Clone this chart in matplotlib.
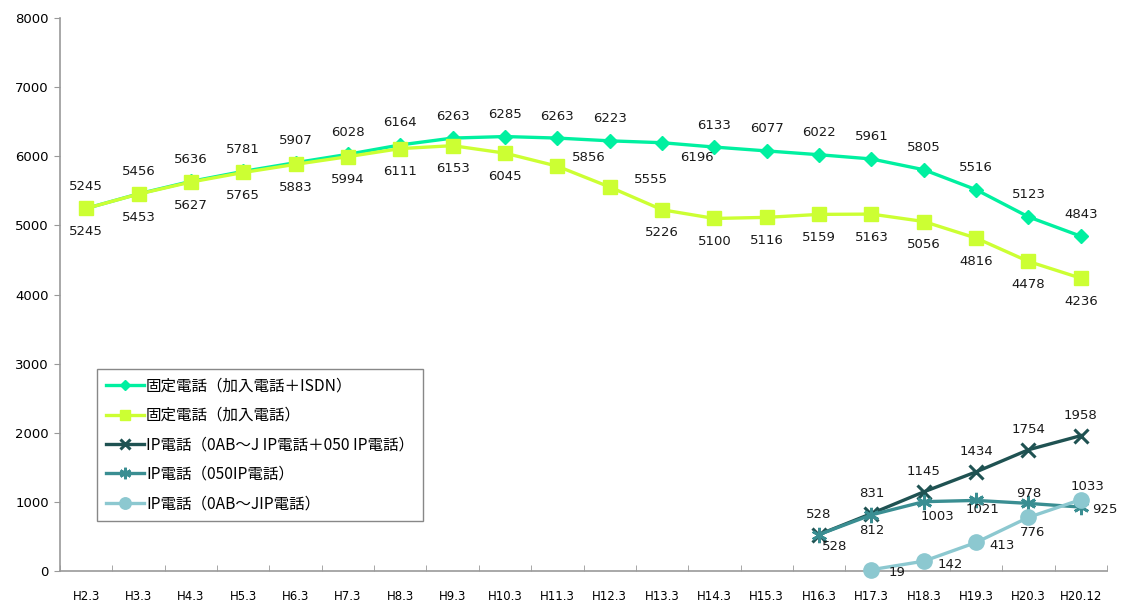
import numpy as np
import matplotlib
matplotlib.use("Agg")
import matplotlib.pyplot as plt

plt.rcParams['font.family'] = ['Noto Sans CJK JP', 'DejaVu Sans']

# categories (fiscal points)
categories = ['H2.3', 'H3.3', 'H4.3', 'H5.3', 'H6.3', 'H7.3', 'H8.3', 'H9.3', 'H10.3', 'H11.3',
              'H12.3', 'H13.3', 'H14.3', 'H15.3', 'H16.3', 'H17.3', 'H18.3', 'H19.3', 'H20.3', 'H20.12']

fixed_isdn = [5245, 5456, 5636, 5781, 5907, 6028, 6164, 6263, 6285, 6263,
              6223, 6196, 6133, 6077, 6022, 5961, 5805, 5516, 5123, 4843]
fixed_only = [5245, 5453, 5627, 5765, 5883, 5994, 6111, 6153, 6045, 5856,
              5555, 5226, 5100, 5116, 5159, 5163, 5056, 4816, 4478, 4236]
# IP series start part-way
ip_total_start = 14
ip_total = [528, 831, 1145, 1434, 1754, 1958]
ip_050_start = 14
ip_050 = [528, 812, 1003, 1021, 978, 925]
ip_0abj_start = 15
ip_0abj = [19, 142, 413, 776, 1033]

series_names = ['固定電話（加入電話＋ISDN）', '固定電話（加入電話）',
                'IP電話（0AB～J IP電話＋050 IP電話）', 'IP電話（050IP電話）', 'IP電話（0AB～JIP電話）']
y_ticks = [0, 1000, 2000, 3000, 4000, 5000, 6000, 7000, 8000]

# label offsets in pixels (dx, dy up); default per series, some overridden
PX = 0.72
label_style = {
    0: ((0, 22), {11: (35, -15)}),
    1: ((0, -23), {9: (31, 9), 10: (41, 8)}),
    2: ((0, 20), {}),
    3: ((0, -16), {0: (16, -12), 2: (14, -15), 3: (6, -9), 4: (0, 10), 5: (24, -2)}),
    4: ((26, -3), {3: (4, -15), 4: (7, 13)}),
}

fig = plt.figure(figsize=(11.29, 6.08), dpi=100)
ax = fig.add_axes([60 / 1129, 1 - 571 / 608, (1107 - 60) / 1129, (571 - 18) / 608])

x_all = np.arange(len(categories))
series = [
    (x_all, fixed_isdn, dict(color='#00F0A0', marker='D', markersize=7)),
    (x_all, fixed_only, dict(color='#CCFF33', marker='s', markersize=9.5)),
    (np.arange(ip_total_start, ip_total_start + len(ip_total)), ip_total,
     dict(color='#1F5252', marker='x', markersize=10, markeredgewidth=2.2)),
    (np.arange(ip_050_start, ip_050_start + len(ip_050)), ip_050,
     dict(color='#3A8E92', marker=(6, 2, 0), markersize=11, markeredgewidth=2)),
    (np.arange(ip_0abj_start, ip_0abj_start + len(ip_0abj)), ip_0abj,
     dict(color='#8CC8D0', marker='o', markersize=11)),
]

for i, (xs, ys, style) in enumerate(series):
    ax.plot(xs, ys, linewidth=2.4, label=series_names[i], clip_on=False, zorder=3 + i, **style)
    default, special = label_style[i]
    for j, (xv, yv) in enumerate(zip(xs, ys)):
        dx, dy = special.get(j, default)
        ax.annotate(str(yv), (xv, yv), xytext=(dx * PX, dy * PX), textcoords='offset points',
                    ha='center', va='center', fontsize=9.5, color='#1a1a1a',
                    family=['DejaVu Sans'], zorder=10)

ax.set_xlim(-0.5, len(categories) - 0.5)
ax.set_ylim(0, 8000)
ax.set_yticks(y_ticks)
ax.set_yticklabels([str(v) for v in y_ticks], fontsize=9.5, family=['DejaVu Sans'])
ax.set_xticks(x_all)
ax.set_xticklabels(categories, fontsize=8.5, family=['DejaVu Sans'])
ax.set_xticks(np.arange(-0.5, len(categories)), minor=True)
ax.tick_params(axis='x', which='major', length=0, pad=14)
ax.tick_params(axis='x', which='minor', length=4, direction='in', color='#999999')
ax.tick_params(axis='y', length=4, color='#999999', pad=4)

for side in ['top', 'right']:
    ax.spines[side].set_visible(False)
for side in ['left', 'bottom']:
    ax.spines[side].set_color('#999999')
    ax.spines[side].set_linewidth(1.2)

leg = ax.legend(loc='upper left', bbox_to_anchor=(37 / 1047, (571 - 369) / 553),
                prop={'family': ['Noto Sans CJK JP', 'DejaVu Sans'], 'size': 11.2},
                handlelength=2.5, handletextpad=0.1, labelspacing=0.8, borderpad=0.55,
                borderaxespad=0, markerscale=0.75,
                fancybox=False, framealpha=1, edgecolor='#888888')
leg.get_frame().set_linewidth(1.0)

fig.savefig('out.png', dpi=100)
